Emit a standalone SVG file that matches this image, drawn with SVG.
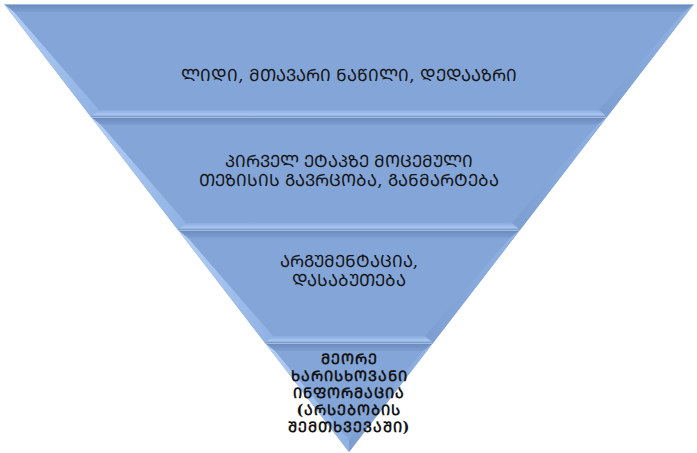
<svg xmlns="http://www.w3.org/2000/svg" width="697" height="453" viewBox="0 0 697 453">
  <defs>
    <linearGradient id="gTop" x1="0" y1="0" x2="0" y2="1">
      <stop offset="0" stop-color="#c9dbf5"/>
      <stop offset="0.15" stop-color="#6d8dbf"/>
      <stop offset="1" stop-color="#7c9ed1"/>
    </linearGradient>
    <linearGradient id="gLeft" x1="0" y1="0" x2="1" y2="0">
      <stop offset="0" stop-color="#b3cff7"/>
      <stop offset="1" stop-color="#8fb1e3"/>
    </linearGradient>
    <linearGradient id="gRight" x1="0" y1="0" x2="1" y2="0">
      <stop offset="0" stop-color="#7b9dd0"/>
      <stop offset="1" stop-color="#92b3e4"/>
    </linearGradient>
    <linearGradient id="gBottom" x1="0" y1="0" x2="0" y2="1">
      <stop offset="0" stop-color="#8aacdf"/>
      <stop offset="0.7" stop-color="#a9c6f1"/>
      <stop offset="1" stop-color="#6f8fbf"/>
    </linearGradient>
  </defs>
  <style>
    .face { fill: #83a5d8; }
    .top { fill: url(#gTop); }
    .left { fill: url(#gLeft); }
    .right { fill: url(#gRight); }
    .bottom { fill: url(#gBottom); }
    .label { font-family: "DejaVu Serif", "DejaVu Sans", "Noto Sans", serif; font-size: 16.8px; fill: #141414; text-anchor: middle; }
    .small { font-size: 14.5px; font-weight: bold; letter-spacing: 1px; }
  </style>

  <!-- band 1 -->
  <g id="band1">
    <polygon class="face" points="4,4 694,4 607,117 91,117"/>
    <polygon class="top" points="4,4 694,4 684,12 14,12"/>
    <polygon class="left" points="4,4 14,12 99,110 91,117"/>
    <polygon class="right" points="694,4 607,117 599,110 684,12"/>
    <polygon class="bottom" points="99,110 599,110 607,117 91,117"/>
    <text class="label" x="349" y="81">ᲚᲘᲓᲘ, ᲛᲗᲐᲕᲐᲠᲘ ᲜᲐᲬᲘᲚᲘ, ᲓᲔᲓᲐᲐᲖᲠᲘ</text>
  </g>

  <!-- band 2 -->
  <g id="band2">
    <polygon class="face" points="91,117 607,117 520,230 178,230"/>
    <polygon class="top" points="91,117 607,117 597,125 101,125"/>
    <polygon class="left" points="91,117 101,125 186,223 178,230"/>
    <polygon class="right" points="607,117 520,230 512,223 597,125"/>
    <polygon class="bottom" points="186,223 512,223 520,230 178,230"/>
    <text class="label" x="349" y="167">ᲞᲘᲠᲕᲔᲚ ᲔᲢᲐᲞᲖᲔ ᲛᲝᲪᲔᲛᲣᲚᲘ</text>
    <text class="label" x="349" y="186">ᲗᲔᲖᲘᲡᲘᲡ ᲒᲐᲕᲠᲪᲝᲑᲐ, ᲒᲐᲜᲛᲐᲠᲢᲔᲑᲐ</text>
  </g>

  <!-- band 3 -->
  <g id="band3">
    <polygon class="face" points="178,230 520,230 433,343 265,343"/>
    <polygon class="top" points="178,230 520,230 510,238 188,238"/>
    <polygon class="left" points="178,230 188,238 273,336 265,343"/>
    <polygon class="right" points="520,230 433,343 425,336 510,238"/>
    <polygon class="bottom" points="273,336 425,336 433,343 265,343"/>
    <text class="label" x="349" y="267">ᲐᲠᲒᲣᲛᲔᲜᲢᲐᲪᲘᲐ,</text>
    <text class="label" x="349" y="286">ᲓᲐᲡᲐᲑᲣᲗᲔᲑᲐ</text>
  </g>

  <!-- band 4 -->
  <g id="band4">
    <polygon class="face" points="265,343 433,343 349,452"/>
    <polygon class="top" points="265,343 433,343 423,351 275,351"/>
    <polygon class="left" points="265,343 275,351 349,440 349,452"/>
    <polygon class="right" points="433,343 349,452 349,440 423,351"/>
    <text class="label small" x="349" y="364">ᲛᲔᲝᲠᲔ</text>
    <text class="label small" x="349" y="381">ᲮᲐᲠᲘᲡᲮᲝᲕᲐᲜᲘ</text>
    <text class="label small" x="349" y="398">ᲘᲜᲤᲝᲠᲛᲐᲪᲘᲐ</text>
    <text class="label small" x="349" y="415">(ᲐᲠᲡᲔᲑᲝᲑᲘᲡ</text>
    <text class="label small" x="349" y="432">ᲨᲔᲛᲗᲮᲕᲔᲕᲐᲨᲘ)</text>
  </g>

  <!-- connectors: none drawn -->
  <g id="connectors"/>
</svg>
